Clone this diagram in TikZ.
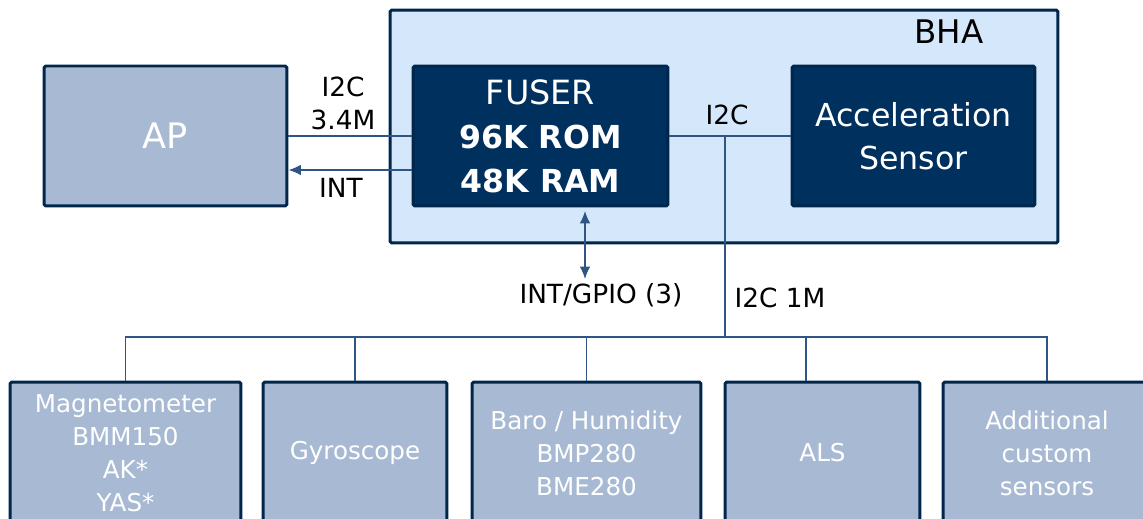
\documentclass[tikz,border=0pt]{standalone}
\usepackage{fontspec}
\setmainfont{DejaVu Sans}
\usetikzlibrary{arrows.meta}
\definecolor{bhafill}{HTML}{D5E8FB}
\definecolor{navy}{HTML}{00305E}
\definecolor{navyline}{HTML}{00264C}
\definecolor{sensfill}{HTML}{A8BAD3}
\definecolor{wirecol}{HTML}{2F5584}
\tikzset{
  chip/.style={draw=navyline, line width=1.7pt, rounded corners=1pt, inner sep=0pt, align=center, text=white},
  hostbox/.style={chip, fill=sensfill, minimum height=2.8cm},
  corebox/.style={chip, fill=navy, minimum height=2.8cm},
  sensbox/.style={chip, fill=sensfill, minimum height=2.84cm, font=\fontsize{14}{18.7}\selectfont},
  wire/.style={draw=wirecol, line width=0.85pt},
  arr/.style={wire, -{Latex[length=7pt,width=6pt]}},
  lbl/.style={inner sep=0pt, align=center, font=\fontsize{15}{18.7}\selectfont}
}
\begin{document}
\begin{tikzpicture}[x=0.02cm, y=-0.02cm]
        \useasboundingbox (0,0) rectangle (1143,519);
        % BHA frame
        \node[chip, fill=bhafill, minimum width=13.36cm, minimum height=4.66cm] (bha) at (724,126.5) {};
        \node[lbl, font=\fontsize{18.5}{22}\selectfont] (bhaname) at (949,32) {BHA};
        % top row
        \node[hostbox, minimum width=4.86cm, font=\fontsize{20}{24}\selectfont] (ap) at (165.5,136) {AP};
        \node[corebox, minimum width=5.1cm, font=\fontsize{18}{25}\selectfont] (fuser) at (540.5,136)
          {{\fontsize{19}{25}\selectfont FUSER}\\\textbf{96K ROM}\\\textbf{48K RAM}};
        \node[corebox, minimum width=4.86cm, font=\fontsize{18}{24.4}\selectfont] (acc) at (913.5,136)
          {Acceleration\\Sensor};
        % sensor row
        \node[sensbox, minimum width=4.62cm] (mag) at (125.5,453) {Magnetometer\\BMM150\\AK*\\YAS*};
        \node[sensbox, minimum width=3.68cm] (gyro) at (355,453) {Gyroscope};
        \node[sensbox, minimum width=4.58cm] (baro) at (586.5,453) {Baro / Humidity\\BMP280\\BME280};
        \node[sensbox, minimum width=3.9cm] (als) at (822.5,453) {ALS};
        \node[sensbox, minimum width=4.16cm] (add) at (1047,453) {Additional\\custom\\sensors};
        % host link
        \draw[wire] (ap.east) -- (fuser.west);
        \draw[arr] ([yshift=-0.68cm]fuser.west) -- ([yshift=-0.68cm]ap.east);
        \node[lbl] (hostbus) at (343,103) {I2C\\3.4M};
        \node[lbl] (hostint) at (341,188) {INT};
        % internal i2c
        \draw[wire] (fuser.east) -- (acc.west);
        \node[lbl] (inti2c) at (727,115) {I2C};
        \coordinate (tap) at (725,136);
        \coordinate (busline) at (725,337);
        \draw[wire] (tap) -- (busline);
        \node[lbl] (extbus) at (780,298) {I2C 1M};
        % gpio
        \coordinate (gpiotop) at (585,211);
        \coordinate (gpiobot) at (585,279);
        \draw[arr, {Latex[length=7pt,width=6pt]}-{Latex[length=7pt,width=6pt]}] (gpiotop) -- (gpiobot);
        \node[lbl] (gpio) at (601,295) {INT/GPIO (3)};
        % sensor bus
        \draw[wire] (mag.north) -- (mag.north |- busline) -- (add.north |- busline) -- (add.north);
        \draw[wire] (gyro.north) -- (gyro.north |- busline);
        \draw[wire] (baro.north) -- (baro.north |- busline);
        \draw[wire] ([xshift=-0.33cm]als.north) -- ([xshift=-0.33cm]als.north |- busline);
      \end{tikzpicture}
\end{document}
